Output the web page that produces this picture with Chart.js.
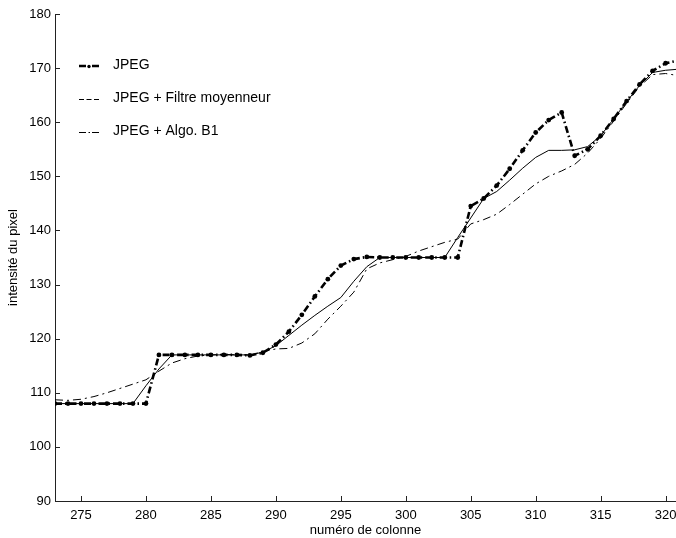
<!DOCTYPE html>
<html><head><meta charset="utf-8">
<script src="https://cdn.jsdelivr.net/npm/chart.js@4"></script>
<style>html,body{margin:0;padding:0;background:#fff}#wrap{width:676px;height:538px}</style>
</head><body><div id="wrap"><canvas id="c" width="676" height="538"></canvas></div>
<script>
const columns = [273,274,275,276,277,278,279,280,281,282,283,284,285,286,287,288,289,290,291,292,293,294,295,296,297,298,299,300,301,302,303,304,305,306,307,308,309,310,311,312,313,314,315,316,317,318,319,320,321];
const jpeg = [108,108,108,108,108,108,108,108,117,117,117,117,117,117,117,116.9,117.4,118.9,121.3,124.4,127.8,131.0,133.5,134.7,135.1,135,135,135,135,135,135,135,144.5,145.9,148.3,151.4,154.8,158.1,160.4,161.8,153.8,155.0,157.5,160.6,163.9,167.0,169.5,170.9,171.4];
const filtreMoyenneur = [108,108,108,108,108,108,108,111.3,114.4,117,117,117,117,117,117,117,117.5,118.7,120.6,122.5,124.3,126.0,127.6,130.6,133.3,135,135,135,135,135,135,138.7,142.3,145.9,147.2,149.3,151.5,153.5,154.8,154.8,154.9,155.5,157.5,160.6,163.8,166.8,169.2,169.6,169.8];
const algoB1 = [108.7,108.6,108.8,109.3,110.0,110.8,111.6,112.4,114.0,115.5,116.3,116.8,117.0,117.1,117.0,117.0,117.6,118.1,118.2,119.2,120.9,123.6,126.0,128.6,132.9,134.0,134.6,135.2,136.2,137.0,137.8,138.4,141.2,142.0,143.0,144.8,146.7,148.6,150.0,151.0,152.2,154.3,157.0,160.2,163.5,166.6,168.8,169.0,168.6];
const xTickValues = [275,280,285,290,295,300,305,310,315,320];
const yTickValues = [90,100,110,120,130,140,150,160,170,180];
const seriesLabels = ['JPEG','JPEG + Filtre moyenneur','JPEG + Algo. B1'];

const FONT = "'Liberation Sans', Arial, Helvetica, sans-serif";
const toPts = (arr) => columns.map((c, i) => ({x: c, y: arr[i]}));

const insideTicks = {
  id: 'insideTicks',
  afterDraw(chart) {
    const ctx = chart.ctx, xs = chart.scales.x, ys = chart.scales.y, a = chart.chartArea;
    ctx.save();
    ctx.strokeStyle = '#222';
    ctx.lineWidth = 1;
    ctx.beginPath();
    xTickValues.forEach(v => {
      const px = Math.round(xs.getPixelForValue(v)) + 0.5;
      ctx.moveTo(px, a.bottom); ctx.lineTo(px, a.bottom - 5);
    });
    yTickValues.forEach(v => {
      const py = Math.round(ys.getPixelForValue(v)) + 0.5;
      ctx.moveTo(a.left, py); ctx.lineTo(a.left + 5, py);
    });
    ctx.stroke();
    ctx.restore();
  }
};

const innerLegend = {
  id: 'innerLegend',
  afterDraw(chart) {
    const ctx = chart.ctx;
    const rows = [66, 99, 132];
    const x0 = 79, x1 = 99, tx = 113;
    ctx.save();
    ctx.strokeStyle = '#000';
    ctx.fillStyle = '#000';
    ctx.lineWidth = 2.5;
    ctx.setLineDash([]);
    ctx.beginPath();
    ctx.moveTo(x0, rows[0]); ctx.lineTo(x0 + 7, rows[0]);
    ctx.moveTo(x1 - 7, rows[0]); ctx.lineTo(x1, rows[0]);
    ctx.stroke();
    ctx.beginPath(); ctx.arc(89, rows[0] + 0.5, 1.7, 0, Math.PI * 2); ctx.fill();
    ctx.lineWidth = 1;
    ctx.setLineDash([5, 2.5]);
    ctx.beginPath(); ctx.moveTo(x0, rows[1] + 0.5); ctx.lineTo(x1, rows[1] + 0.5); ctx.stroke();
    ctx.setLineDash([]);
    ctx.beginPath();
    ctx.moveTo(x0, rows[2] + 0.5); ctx.lineTo(x0 + 7, rows[2] + 0.5);
    ctx.moveTo(88.5, rows[2] + 0.5); ctx.lineTo(90, rows[2] + 0.5);
    ctx.moveTo(x1 - 7, rows[2] + 0.5); ctx.lineTo(x1, rows[2] + 0.5);
    ctx.stroke();
    ctx.font = '14px ' + FONT;
    ctx.textBaseline = 'middle';
    ctx.textAlign = 'left';
    chart.data.datasets.forEach((d, i) => ctx.fillText(d.label, tx, rows[i] - 1));
    ctx.restore();
  }
};

new Chart(document.getElementById('c'), {
  type: 'line',
  data: {
    datasets: [
      {label: seriesLabels[0], data: toPts(jpeg), borderColor: '#000', backgroundColor: '#000', borderWidth: 2.6,
       borderDash: [7, 3, 1.5, 3], pointRadius: 2.4, pointBackgroundColor: '#000', pointBorderWidth: 0, tension: 0},
      {label: seriesLabels[1], data: toPts(filtreMoyenneur), borderColor: '#000', borderWidth: 1, pointRadius: 0, tension: 0},
      {label: seriesLabels[2], data: toPts(algoB1), borderColor: '#000', borderWidth: 1,
       borderDash: [8, 4, 2, 4], pointRadius: 0, tension: 0}
    ]
  },
  options: {
    responsive: false,
    animation: false,
    devicePixelRatio: 1,
    layout: {autoPadding: false, padding: {top: 14, right: 0, left: 0, bottom: 0}},
    plugins: {legend: {display: false}, tooltip: {enabled: false}},
    scales: {
      x: {
        type: 'linear', min: 273, max: 320.8,
        afterBuildTicks: (s) => { s.ticks = xTickValues.map(v => ({value: v})); },
        afterFit: (s) => { s.height = 37; s.paddingRight = 0; s.paddingLeft = 0; },
        grid: {display: false, drawTicks: false},
        border: {display: true, color: '#222', width: 1},
        ticks: {color: '#000', font: {family: FONT, size: 13}, padding: 7, maxRotation: 0, autoSkip: false},
        title: {display: true, text: 'numéro de colonne', color: '#000', font: {family: FONT, size: 13}, padding: {top: 0, bottom: 0}}
      },
      y: {
        type: 'linear', min: 90, max: 180,
        afterBuildTicks: (s) => { s.ticks = yTickValues.map(v => ({value: v})); },
        afterFit: (s) => { s.width = 55; s.paddingTop = 0; s.paddingBottom = 0; },
        grid: {display: false, drawTicks: false},
        border: {display: true, color: '#222', width: 1},
        ticks: {color: '#000', font: {family: FONT, size: 13}, padding: 4, autoSkip: false},
        title: {display: true, text: 'intensité du pixel', color: '#000', font: {family: FONT, size: 13}, padding: {top: 6, bottom: 0}}
      }
    }
  },
  plugins: [insideTicks, innerLegend]
});
</script>
</body></html>
